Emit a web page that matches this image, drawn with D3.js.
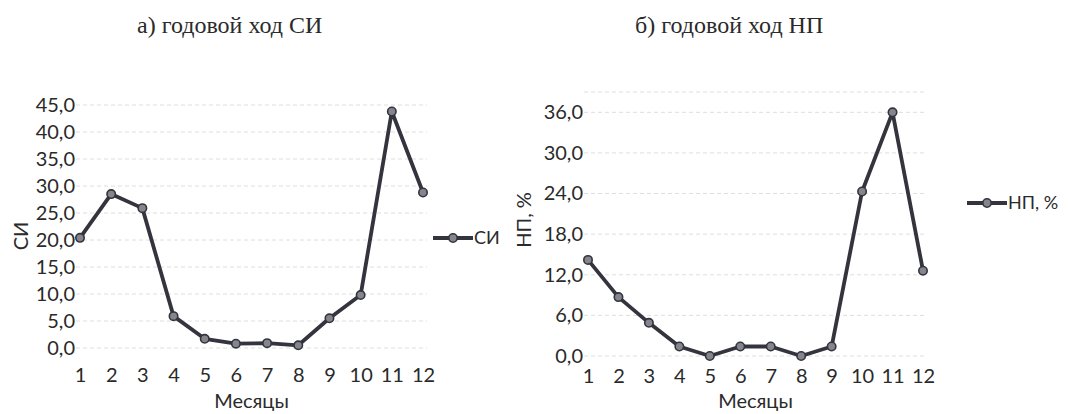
<!DOCTYPE html>
<html>
<head>
<meta charset="utf-8">
<script src="https://cdn.jsdelivr.net/npm/d3@7.9.0/dist/d3.min.js"></script>
<style>
  body { margin: 0; background: #fff; }
  svg { display: block; }
  .tick text { font-family: Lato, 'Open Sans', sans-serif; fill: #2a2a2a; }
</style>
</head>
<body>
<div id="chart"></div>
<script>
const months = [1, 2, 3, 4, 5, 6, 7, 8, 9, 10, 11, 12];
const siValues = [20.4, 28.5, 25.9, 5.9, 1.7, 0.8, 0.9, 0.5, 5.5, 9.8, 43.8, 28.8];
const npValues = [14.2, 8.7, 4.9, 1.4, 0.0, 1.4, 1.4, 0.0, 1.4, 24.3, 36.0, 12.6];
const siTicks = [0, 5, 10, 15, 20, 25, 30, 35, 40, 45];
const npTicks = [0, 6, 12, 18, 24, 30, 36];

const width = 1068;
const height = 414;
const lineColor = '#34343e';
const fmt = (d) => d.toFixed(1).replace('.', ',');

const svg = d3
  .select('#chart')
  .append('svg')
  .attr('width', width)
  .attr('height', height);

function drawPanel(opts) {
  const { values, ticks, yMax, xRange, yRange, xTickY, title, titleX, yLabel, yLabelX, yLabelY, legendX, legendY, legendText } = opts;

  const x = d3.scaleLinear().domain([1, 12]).range(xRange);
  const y = d3.scaleLinear().domain([0, yMax]).range(yRange);

  const g = svg.append('g');

  // gridlines
  const gridVals = ticks.concat(yMax > d3.max(ticks) ? [yMax] : []);
  g.append('g')
    .selectAll('line')
    .data(gridVals)
    .join('line')
    .attr('x1', xRange[0] - 4)
    .attr('x2', xRange[1] + 4)
    .attr('y1', (d) => y(d))
    .attr('y2', (d) => y(d))
    .attr('stroke', '#dedede')
    .attr('stroke-width', 1)
    .attr('stroke-dasharray', '4,3');

  // y axis labels
  const yAxis = g
    .append('g')
    .attr('transform', `translate(${xRange[0] - 5},0)`)
    .call(d3.axisLeft(y).tickValues(ticks).tickFormat(fmt).tickSize(0).tickPadding(0));
  yAxis.select('.domain').remove();
  yAxis.selectAll('text').attr('font-size', 20);

  // x axis labels
  const xAxis = g
    .append('g')
    .attr('transform', `translate(0,${xTickY})`)
    .call(d3.axisBottom(x).tickValues(months).tickFormat(d3.format('d')).tickSize(0).tickPadding(0));
  xAxis.select('.domain').remove();
  xAxis.selectAll('text').attr('font-size', 20).attr('dy', '0.35em');

  // line + markers
  const line = d3.line().x((d, i) => x(months[i])).y((d) => y(d));
  g.append('path')
    .datum(values)
    .attr('fill', 'none')
    .attr('stroke', lineColor)
    .attr('stroke-width', 3.8)
    .attr('stroke-linejoin', 'round')
    .attr('d', line);

  g.append('g')
    .selectAll('circle')
    .data(values)
    .join('circle')
    .attr('cx', (d, i) => x(months[i]))
    .attr('cy', (d) => y(d))
    .attr('r', 4.2)
    .attr('fill', '#85858d')
    .attr('stroke', lineColor)
    .attr('stroke-width', 1.6);

  // title
  svg.append('text')
    .attr('x', titleX)
    .attr('y', 33)
    .attr('font-family', "'Liberation Serif', serif")
    .attr('font-size', 24)
    .attr('fill', '#2a2a2a')
    .text(title);

  // axis titles
  svg.append('text')
    .attr('transform', `translate(${yLabelX},${yLabelY}) rotate(-90)`)
    .attr('text-anchor', 'middle')
    .attr('font-family', 'Lato, sans-serif')
    .attr('font-size', 20)
    .attr('fill', '#2a2a2a')
    .text(yLabel);

  svg.append('text')
    .attr('x', (xRange[0] + xRange[1]) / 2)
    .attr('y', 408)
    .attr('text-anchor', 'middle')
    .attr('font-family', 'Lato, sans-serif')
    .attr('font-size', 20)
    .attr('fill', '#2a2a2a')
    .text('Месяцы');

  // legend
  const lg = svg.append('g').attr('transform', `translate(${legendX},${legendY})`);
  lg.append('line')
    .attr('x1', 0).attr('x2', 40)
    .attr('stroke', lineColor)
    .attr('stroke-width', 3.8);
  lg.append('circle')
    .attr('cx', 20).attr('r', 4.2)
    .attr('fill', '#85858d')
    .attr('stroke', lineColor)
    .attr('stroke-width', 1.6);
  lg.append('text')
    .attr('x', 41)
    .attr('dy', '0.35em')
    .attr('font-family', 'Lato, sans-serif')
    .attr('font-size', 18)
    .attr('fill', '#2a2a2a')
    .text(legendText);
}

drawPanel({
  values: siValues,
  ticks: siTicks,
  yMax: 45,
  xRange: [80, 423],
  yRange: [348, 105],
  xTickY: 375,
  title: 'а) годовой ход СИ',
  titleX: 137,
  yLabel: 'СИ',
  yLabelX: 28,
  yLabelY: 236,
  legendX: 433,
  legendY: 238,
  legendText: 'СИ',
});

drawPanel({
  values: npValues,
  ticks: npTicks,
  yMax: 39,
  xRange: [588, 923],
  yRange: [356, 92],
  xTickY: 376,
  title: 'б) годовой ход НП',
  titleX: 635,
  yLabel: 'НП, %',
  yLabelX: 531,
  yLabelY: 220,
  legendX: 967,
  legendY: 203,
  legendText: 'НП, %',
});
</script>
</body>
</html>
